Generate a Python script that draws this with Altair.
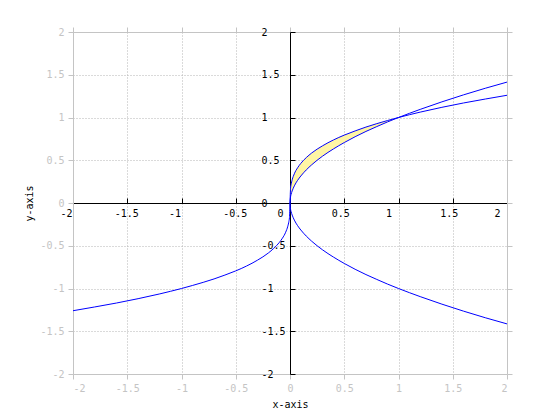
import altair as alt
import pandas as pd

# ---- data ----
x_pos = [0, 0.005, 0.01, 0.02, 0.04, 0.07, 0.1, 0.15, 0.2, 0.3, 0.4, 0.5, 0.6,
         0.7, 0.8, 0.9, 1.0, 1.2, 1.4, 1.6, 1.8, 2.0]
sqrt_up = [0, 0.071, 0.1, 0.141, 0.2, 0.265, 0.316, 0.387, 0.447, 0.548, 0.632,
           0.707, 0.775, 0.837, 0.894, 0.949, 1.0, 1.095, 1.183, 1.265, 1.342, 1.414]
cbrt_up = [0, 0.171, 0.215, 0.271, 0.342, 0.412, 0.464, 0.531, 0.585, 0.669, 0.737,
           0.794, 0.843, 0.888, 0.928, 0.965, 1.0, 1.063, 1.119, 1.170, 1.216, 1.260]
sqrt_down = [0, -0.071, -0.1, -0.141, -0.2, -0.265, -0.316, -0.387, -0.447, -0.548,
             -0.632, -0.707, -0.775, -0.837, -0.894, -0.949, -1.0, -1.095, -1.183,
             -1.265, -1.342, -1.414]
x_neg = [-2.0, -1.8, -1.6, -1.4, -1.2, -1.0, -0.9, -0.8, -0.7, -0.6, -0.5, -0.4,
         -0.3, -0.2, -0.15, -0.1, -0.07, -0.04, -0.02, -0.01, -0.005, 0]
cbrt_neg = [-1.26, -1.216, -1.17, -1.119, -1.063, -1.0, -0.965, -0.928, -0.888,
            -0.843, -0.794, -0.737, -0.669, -0.585, -0.531, -0.464, -0.412, -0.342,
            -0.271, -0.215, -0.171, 0]
tick_values = [-2, -1.5, -1, -0.5, 0, 0.5, 1, 1.5, 2]
fill_end = 1.0

rows = []
for xv, yv in zip(x_pos, sqrt_up):
    rows.append({"x": xv, "y": yv, "s": "sqrt_up"})
for xv, yv in zip(x_pos, sqrt_down):
    rows.append({"x": xv, "y": yv, "s": "sqrt_down"})
for xv, yv in zip(x_neg, cbrt_neg):
    rows.append({"x": xv, "y": yv, "s": "cbrt"})
for xv, yv in zip(x_pos[1:], cbrt_up[1:]):
    rows.append({"x": xv, "y": yv, "s": "cbrt"})
lines_df = pd.DataFrame(rows)

fill_df = pd.DataFrame({"x": x_pos, "lo": sqrt_up, "hi": cbrt_up})
fill_df = fill_df[fill_df["x"] <= fill_end]

W, H = 434, 342
GRAY_TXT = "#c4c4c4"
GRAY_LN = "#c4c4c4"
GRID = "#b4b4b4"
FONT = "DejaVu Sans Mono"
LBL = "'' + datum.value"

xs = alt.Scale(domain=[-2, 2], nice=False, zero=False)
ys = alt.Scale(domain=[-2, 2], nice=False, zero=False)

# gray outer axes (bottom / left) with grid
outer_x = alt.Axis(orient="bottom", values=tick_values, labelExpr=LBL,
                   labelColor=GRAY_TXT, tickColor=GRAY_LN, domainColor=GRAY_LN,
                   tickSize=5, labelPadding=4, grid=True, gridColor=GRID,
                   gridDash=[1, 2], title="x-axis", titleColor="black",
                   titleFontWeight="normal", titleY=30, titleBaseline="middle")
outer_y = alt.Axis(orient="left", values=tick_values, labelExpr=LBL,
                   labelColor=GRAY_TXT, tickColor=GRAY_LN, domainColor=GRAY_LN,
                   tickSize=5, labelPadding=4, grid=True, gridColor=GRID,
                   gridDash=[1, 2], title="y-axis", titleColor="black",
                   titleFontWeight="normal", titleX=-44, titleY=H / 2,
                   titleBaseline="middle", titleAlign="center", titleAngle=270)

fill = alt.Chart(fill_df).mark_area(color="#fff5a5", opacity=1,
                                    interpolate="monotone").encode(
    x=alt.X("x:Q", scale=xs, axis=outer_x),
    y=alt.Y("lo:Q", scale=ys, axis=outer_y),
    y2="hi:Q",
)

# gray top / right ticks (box)
box_x = alt.Axis(orient="top", values=tick_values, labels=False,
                 tickColor=GRAY_LN, domainColor=GRAY_LN, tickSize=5,
                 grid=False, title=None)
box_y = alt.Axis(orient="right", values=tick_values, labels=False,
                 tickColor=GRAY_LN, domainColor=GRAY_LN, tickSize=5,
                 grid=False, title=None)
box = alt.Chart(lines_df).mark_point(opacity=0).encode(
    x=alt.X("x:Q", scale=xs, axis=box_x),
    y=alt.Y("y:Q", scale=ys, axis=box_y),
)

# black axes through the origin
in_x = alt.Axis(orient="top", offset=-H / 2, values=tick_values, labelExpr=LBL,
                labelColor="black", tickColor="black", domainColor="black",
                tickSize=5, labelPadding=-10, labelBaseline="top",
                labelAlign="left", labelOffset=-13, grid=False, title=None)
in_y = alt.Axis(orient="right", offset=-W / 2, values=tick_values, labelExpr=LBL,
                labelColor="black", tickColor="black", domainColor="black",
                tickSize=5, labelPadding=-34, labelAlign="left", grid=False,
                title=None)
curves = alt.Chart(lines_df).mark_line(color="#0000ff", strokeWidth=1,
                                       interpolate="monotone").encode(
    x=alt.X("x:Q", scale=xs, axis=in_x),
    y=alt.Y("y:Q", scale=ys, axis=in_y),
    detail="s:N",
)

chart = alt.layer(fill, box, curves).resolve_axis(
    x="independent", y="independent"
).properties(
    width=W, height=H,
    autosize=alt.AutoSizeParams(type="none"),
    padding={"left": 65, "top": 24, "right": 40, "bottom": 40},
).configure_view(stroke=None).configure_axis(
    labelFont=FONT, labelFontSize=10, titleFont=FONT, titleFontSize=10,
    domainWidth=1, tickWidth=1,
)

chart.save("out.html", embed_options={"renderer": "svg", "actions": False})
